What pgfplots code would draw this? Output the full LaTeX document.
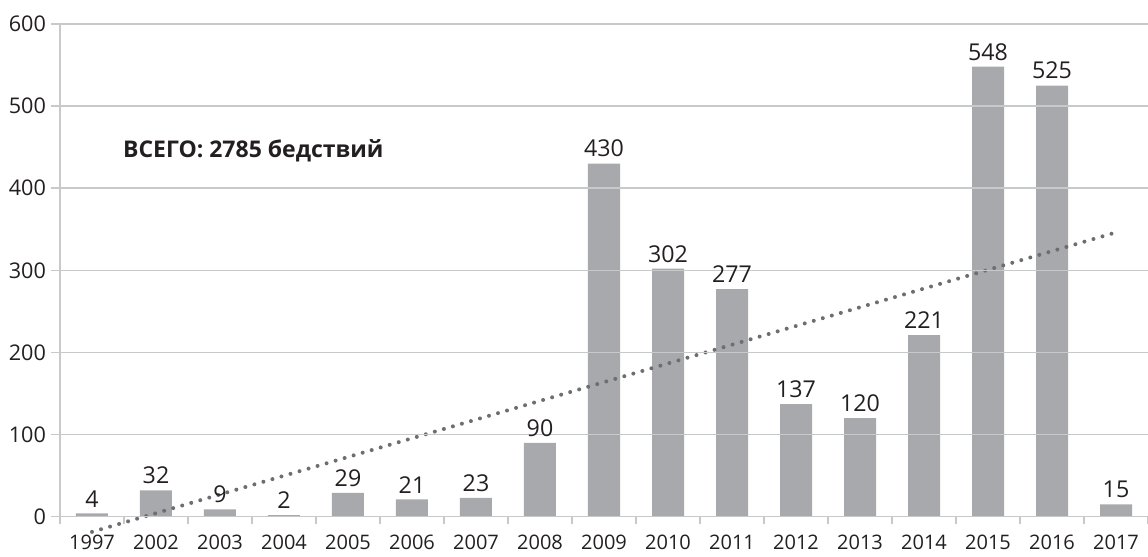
\documentclass[border=0pt]{standalone}
\usepackage{fontspec}
\setmainfont{Open Sans}
\usepackage{pgfplots}
\pgfplotsset{compat=1.18}
\definecolor{barc}{HTML}{A7A9AC}
\definecolor{gridc}{HTML}{C8C9CB}
\definecolor{trendc}{HTML}{6D6E71}
\definecolor{txt}{HTML}{231F20}
\begin{document}
\begin{tikzpicture}
\begin{axis}[
  at={(0,0)}, anchor=south west,
  scale only axis,
  width=544pt, height=246.35pt,
  xmin=-0.5, xmax=16.5,
  ymin=0, ymax=600,
  clip=false,
  axis on top,
  axis x line=bottom, axis y line=left,
  axis line style={draw=gridc, line width=0.8pt, -},
  ytick={0,100,...,600},
  ymajorgrids,
  grid style={draw=gridc, line width=0.8pt},
  xtick={0,...,16},
  xticklabels={1997,2002,2003,2004,2005,2006,2007,2008,2009,2010,2011,2012,2013,2014,2015,2016,2017},
  minor xtick={-0.5,0.5,...,16.5},
  major x tick style={draw=none},
  minor x tick style={draw=gridc, line width=0.8pt},
  y tick style={draw=gridc, line width=0.8pt},
  tick align=outside,
  minor tick length=3.5pt,
  major tick length=4.5pt,
  /pgf/number format/assume math mode=true,
  /pgf/number format/1000 sep={},
  yticklabel style={font=\fontsize{10.8}{12}\selectfont, text=txt, xshift=1pt},
  xticklabel style={font=\fontsize{10}{12}\selectfont, text=txt, inner sep=1pt, yshift=-3.5pt},
]
\addplot[ybar, bar width=16pt, fill=barc, draw=none,
  nodes near coords, point meta=y,
  every node near coord/.append style={font=\fontsize{11.6}{14}\selectfont, text=txt, anchor=south, inner sep=0pt, yshift=3pt}] coordinates {
(0,4) (1,32) (2,9) (3,2) (4,29) (5,21) (6,23) (7,90) (8,430) (9,302) (10,277) (11,137) (12,120) (13,221) (14,548) (15,525) (16,15)
};
\addplot[trendc, line width=2pt, line cap=round, dash pattern=on 0pt off 4.7pt, forget plot] coordinates {(0,-18.5) (16,346.2)};
\node[anchor=base west, font=\bfseries\fontsize{11.5}{14}\selectfont, text=txt, inner sep=0pt] at (axis cs:0.48,438) {ВСЕГО: 2785 бедствий};
\end{axis}
\pgfresetboundingbox
\path[use as bounding box] (-30pt,-20.15pt) rectangle (544pt,258.35pt);
\end{tikzpicture}
\end{document}
